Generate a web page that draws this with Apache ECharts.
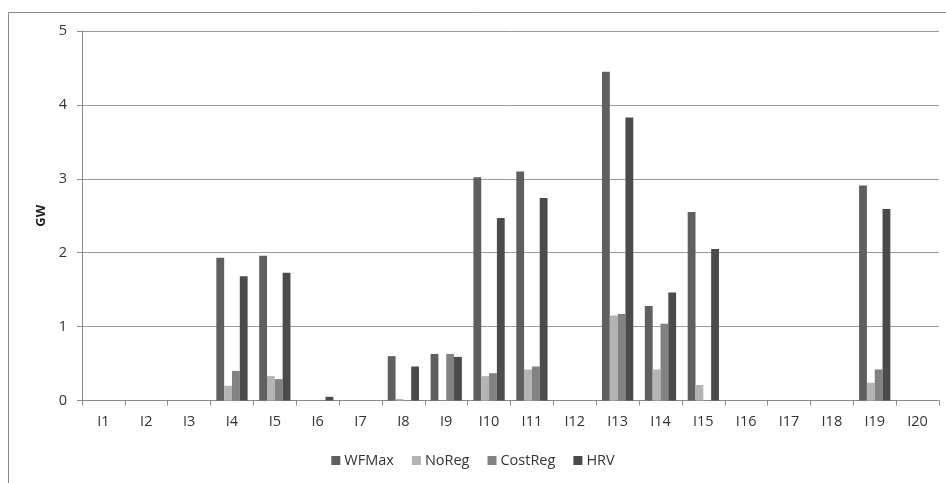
<!DOCTYPE html>
<html><head><meta charset="utf-8">
<script src="https://cdn.jsdelivr.net/npm/echarts@6/dist/echarts.min.js"></script>
<style>html,body{margin:0;padding:0;background:#fff}#c{width:946px;height:483px}</style>
</head><body><div id="c"></div>
<script>
const categories = ['I1','I2','I3','I4','I5','I6','I7','I8','I9','I10','I11','I12','I13','I14','I15','I16','I17','I18','I19','I20'];
const wfmax   = [0,0,0,1.93,1.96,0,0,0.60,0.63,3.02,3.10,0,4.45,1.28,2.55,0,0,0,2.91,0];
const noreg   = [0,0,0,0.20,0.33,0,0,0.02,0,0.33,0.42,0,1.15,0.42,0.21,0,0,0,0.24,0];
const costreg = [0,0,0,0.40,0.29,0,0,0,0.63,0.37,0.46,0,1.17,1.04,0,0,0,0,0.42,0];
const hrv     = [0,0,0,1.68,1.73,0.05,0,0.46,0.59,2.47,2.74,0,3.83,1.46,2.05,0,0,0,2.59,0];
const seriesNames = ['WFMax','NoReg','CostReg','HRV'];
const colors = ['#5f5f5f','#b4b4b4','#828282','#4b4b4b'];
const yTicks = [0,1,2,3,4,5];

const chart = echarts.init(document.getElementById('c'), null, {renderer:'canvas'});
const font = '"Open Sans", "Liberation Sans", sans-serif';
const data = [wfmax, noreg, costreg, hrv];
chart.setOption({
  animation:false,
  backgroundColor:'#fff',
  color: colors,
  graphic:[{type:'rect', shape:{x:8.5,y:12.5,width:960,height:500}, style:{fill:'none',stroke:'#8a8a8a',lineWidth:1}, silent:true}],
  grid:{left:82, right:7, top:31, bottom:82.5, containLabel:false},
  legend:{
    data: seriesNames, bottom:10, left:'center', itemWidth:9, itemHeight:9, itemGap:18,
    icon:'rect',
    textStyle:{fontFamily:font, fontSize:14.5, color:'#333', padding:[0,0,0,-1]}
  },
  xAxis:{
    type:'category', data:categories,
    axisLine:{lineStyle:{color:'#8a8a8a'}},
    axisTick:{show:true, length:5, alignWithLabel:false, lineStyle:{color:'#8a8a8a'}},
    axisLabel:{fontFamily:font, fontSize:14.5, color:'#333', margin:14}
  },
  yAxis:{
    type:'value', min:yTicks[0], max:yTicks[yTicks.length-1], interval:1,
    name:'GW', nameLocation:'middle', nameGap:34, nameRotate:90,
    nameTextStyle:{fontFamily:font, fontSize:13, fontWeight:'bold', color:'#222'},
    axisLine:{show:true, lineStyle:{color:'#8a8a8a'}},
    axisTick:{show:true, length:5, lineStyle:{color:'#8a8a8a'}},
    axisLabel:{fontFamily:font, fontSize:14.5, color:'#333', margin:15},
    splitLine:{lineStyle:{color:'#9a9a9a'}}
  },
  series: seriesNames.map((n,i)=>({
    name:n, type:'bar', data:data[i], barGap:'0%', barCategoryGap:'27%',
    itemStyle:{color:colors[i]}
  }))
});
</script></body></html>
